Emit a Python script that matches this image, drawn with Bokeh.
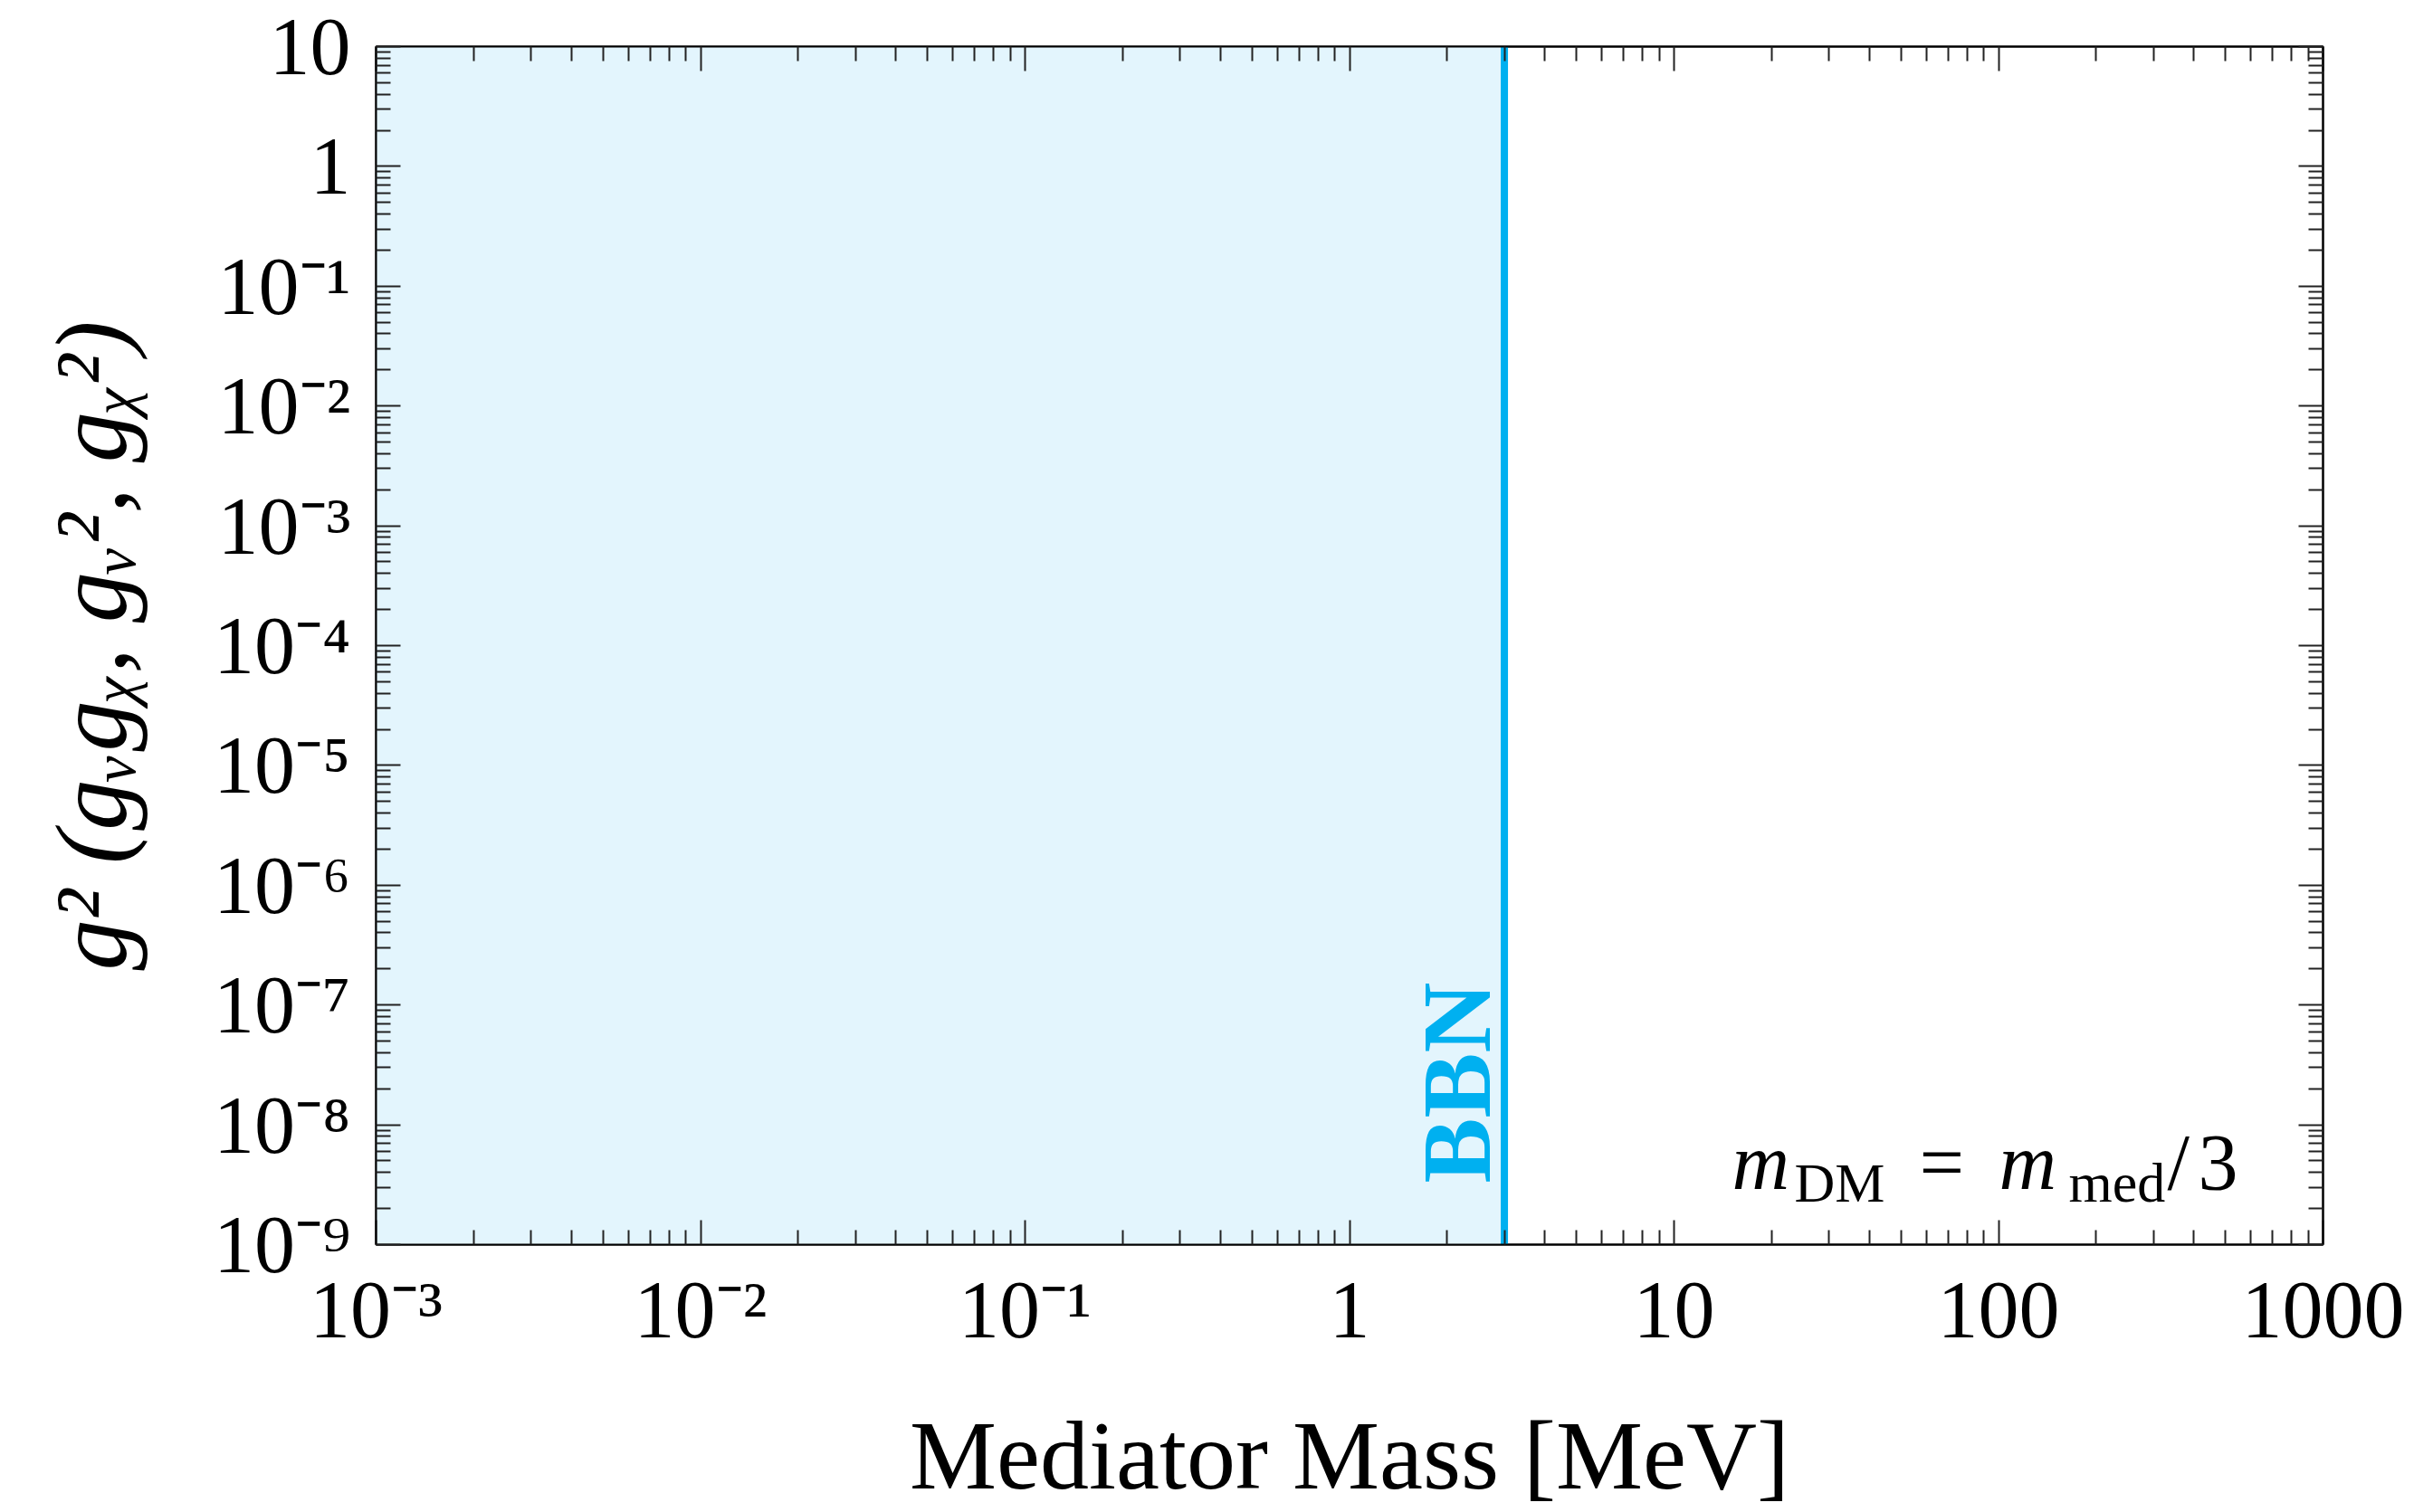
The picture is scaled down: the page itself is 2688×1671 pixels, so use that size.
import math

from bokeh.plotting import figure
from bokeh.models import Range1d, LogAxis, FixedTicker, Label, CustomJSTickFormatter
from bokeh.embed import file_html
from bokeh.resources import INLINE

# ---- data -------------------------------------------------------------
# plotted window: mediator mass [MeV] and squared coupling
x_min, x_max = 1e-3, 1e3
y_min, y_max = 1e-9, 10.0

# decades carrying a major tick on each axis
x_tick_exponents = [-3, -2, -1, 0, 1, 2, 3]
y_tick_exponents = [-9, -8, -7, -6, -5, -4, -3, -2, -1, 0, 1]

# tick label texts
x_tick_labels = ["10\u207b\u00b3", "10\u207b\u00b2", "10\u207b\u00b9",
                 "1", "10", "100", "1000"]
y_tick_labels = ["10\u207b\u2079", "10\u207b\u2078", "10\u207b\u2077",
                 "10\u207b\u2076", "10\u207b\u2075", "10\u207b\u2074",
                 "10\u207b\u00b3", "10\u207b\u00b2", "10\u207b\u00b9",
                 "1", "10"]

# BBN lower bound on the mediator mass [MeV]
bbn_mass = 3.0
bbn_label = "BBN"

x_title = "Mediator Mass [MeV]"
y_title = "g\u00b2 (g\u1d65g\u1d6a, g\u1d65\u00b2, g\u1d6a\u00b2)"

# ---- style ------------------------------------------------------------
SERIF = "Liberation Serif"
BBN_LINE = "#00B0F0"
BBN_FILL = "#E3F5FD"
INK = "#000000"

W, H = 2688, 1671
LEFT, RIGHT, TOP, BOTTOM = 415, 122, 51, 296

major_x = [10.0 ** e for e in x_tick_exponents]
major_y = [10.0 ** e for e in y_tick_exponents]
minor_x = [m * 10.0 ** e for e in x_tick_exponents[:-1] for m in range(2, 10)]
minor_y = [m * 10.0 ** e for e in y_tick_exponents[:-1] for m in range(2, 10)]

p = figure(width=W, height=H, x_axis_type="log", y_axis_type="log",
           x_range=Range1d(x_min, x_max), y_range=Range1d(y_min, y_max),
           output_backend="svg", toolbar_location=None,
           min_border_left=LEFT, min_border_right=RIGHT,
           min_border_top=TOP, min_border_bottom=BOTTOM)
p.grid.visible = False
p.background_fill_color = "white"
p.border_fill_color = "white"
p.outline_line_color = INK
p.outline_line_width = 2

bottom_axis = p.below[0]
left_axis = p.left[0]


def style_axis(ax, major, minor):
    ax.ticker = FixedTicker(ticks=major, minor_ticks=minor)
    ax.major_tick_in = 27
    ax.major_tick_out = 0
    ax.minor_tick_in = 16
    ax.minor_tick_out = 0
    ax.major_tick_line_width = 2
    ax.minor_tick_line_width = 2
    ax.major_tick_line_color = "#222222"
    ax.minor_tick_line_color = "#222222"
    ax.axis_line_color = INK
    ax.axis_line_width = 2
    ax.major_label_text_font = SERIF
    ax.major_label_text_font_size = "90px"
    ax.major_label_text_color = INK
    ax.axis_label_text_font = SERIF
    ax.axis_label_text_color = INK


def mirror_axis(major, minor):
    ax = LogAxis()
    style_axis(ax, major, minor)
    ax.formatter = CustomJSTickFormatter(code="return ''")
    ax.major_label_standoff = 0
    ax.major_label_text_font_size = "1px"
    return ax


style_axis(bottom_axis, major_x, minor_x)
style_axis(left_axis, major_y, minor_y)
bottom_axis.major_label_overrides = dict(zip(major_x, x_tick_labels))
left_axis.major_label_overrides = dict(zip(major_y, y_tick_labels))
bottom_axis.major_label_standoff = 22
left_axis.major_label_standoff = 28

bottom_axis.axis_label = x_title
bottom_axis.axis_label_text_font_style = "normal"
bottom_axis.axis_label_text_font_size = "108px"
bottom_axis.axis_label_standoff = 49

left_axis.axis_label = y_title
left_axis.axis_label_text_font_style = "italic"
left_axis.axis_label_text_font_size = "112px"
left_axis.axis_label_standoff = 70

p.add_layout(mirror_axis(major_x, minor_x), "above")
p.add_layout(mirror_axis(major_y, minor_y), "right")

# ---- BBN excluded region ---------------------------------------------
p.quad(left=[x_min], right=[bbn_mass], bottom=[y_min], top=[y_max],
       fill_color=BBN_FILL, line_color=None)
p.line(x=[bbn_mass, bbn_mass], y=[y_min, y_max], line_color=BBN_LINE, line_width=8)

p.add_layout(Label(x=bbn_mass, y=y_min, text=bbn_label, angle=math.pi / 2,
                   x_offset=-53, y_offset=68, text_align="left",
                   text_baseline="alphabetic", text_font=SERIF,
                   text_font_style="bold", text_font_size="108px",
                   text_color=BBN_LINE))

# ---- benchmark note: m_DM = m_med / 3 ------------------------------------
NOTE, NOTE_SUB = 88, 62
note_parts = [
    # text, offset from the right edge, offset from the bottom edge, size, style
    ("m", -653, 91, NOTE, "italic"),
    ("DM", -584, 69, NOTE_SUB, "normal"),
    ("=", -446, 91, NOTE, "normal"),
    ("m", -358, 91, NOTE, "italic"),
    ("med", -281, 69, NOTE_SUB, "normal"),
    ("/", -172, 91, NOTE, "normal"),
    ("3", -138, 91, NOTE, "normal"),
]
for text, dx, dy, size, style in note_parts:
    p.add_layout(Label(x=x_max, y=y_min, text=text, x_offset=dx, y_offset=dy,
                       text_align="left", text_baseline="alphabetic",
                       text_font=SERIF, text_font_style=style,
                       text_font_size=f"{size}px", text_color=INK))

open("out.html", "w").write(file_html(p, INLINE))
